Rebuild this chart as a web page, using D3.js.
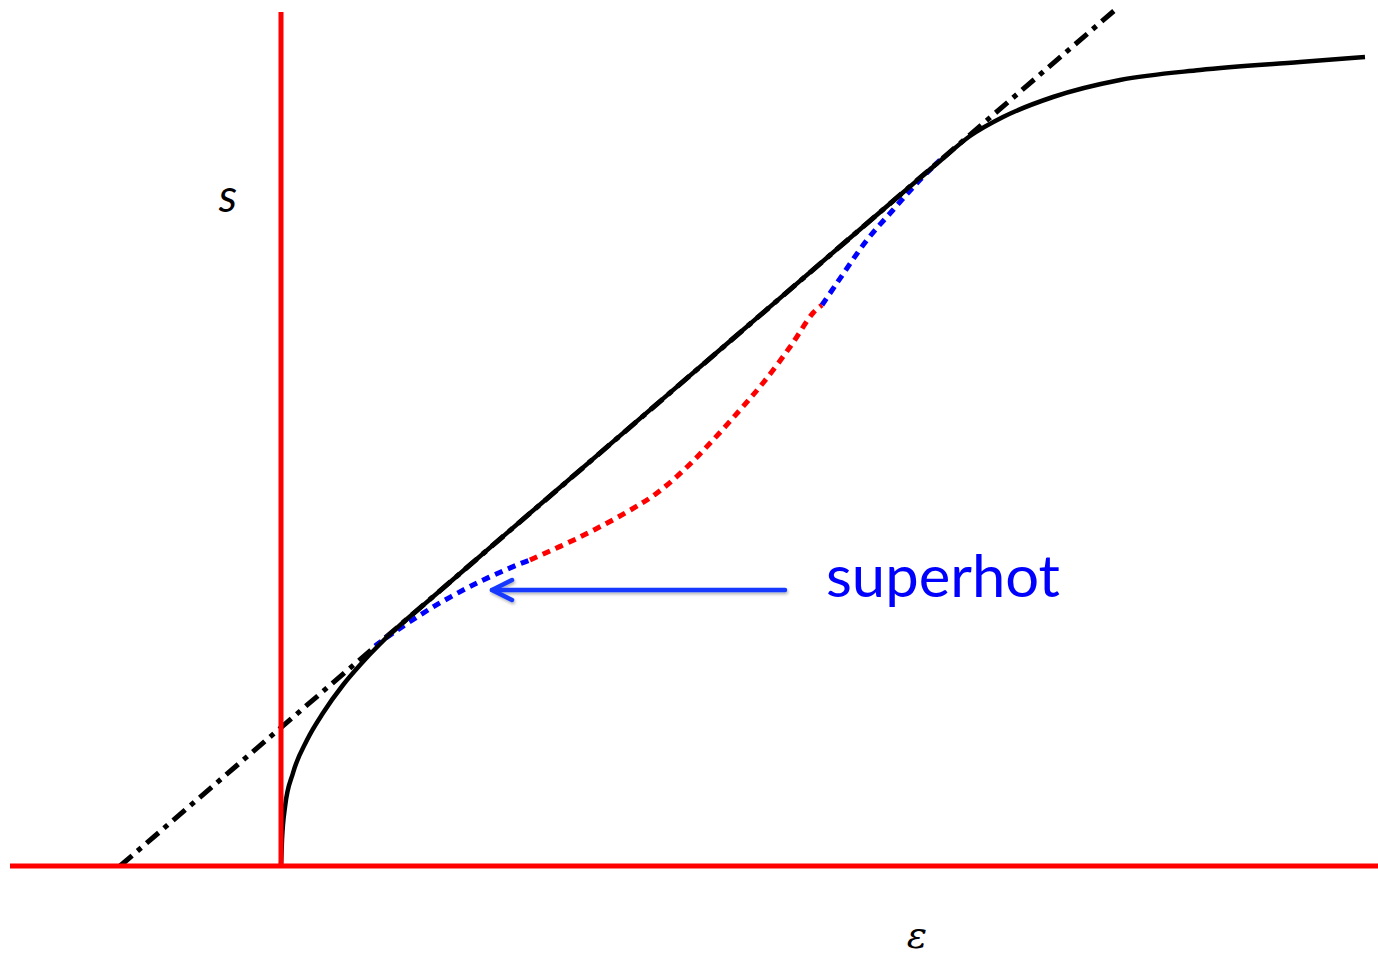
<!DOCTYPE html>
<html>
<head>
<meta charset="utf-8">
<script src="https://cdn.jsdelivr.net/npm/d3@7"></script>
<style>
  html, body { margin: 0; padding: 0; background: #fff; }
  svg { display: block; }
</style>
</head>
<body>
<svg id="chart" width="1378" height="956"></svg>
<script>
// Entropy s as a function of energy ε: equilibrium curve, its straight tangent
// (concave hull), and the non-concave "superhot" branch below it.

// axis extents (ε, s units)
const epsExtent = [-2.71, 10.97];
const sExtent = [0, 8.54];

// equilibrium entropy curve s(ε): low-energy bend, straight part, saturation
const sCurveEps = [0, 0.01, 0.04, 0.12, 0.26, 0.42, 0.62, 0.79, 0.99, 1.19, 1.40, 2.50, 4.50, 6.10, 6.40, 6.59, 6.89, 7.22, 7.72, 8.39, 9.19, 10.19, 10.84];
const sCurveS   = [0, 0.26, 0.59, 0.93, 1.26, 1.53, 1.81, 2.01, 2.22, 2.408, 2.589, 3.537, 5.257, 6.633, 6.889, 7.050, 7.30, 7.49, 7.69, 7.86, 7.96, 8.04, 8.09];

// common tangent (dash-dot)
const tangentEps = [-1.61, 8.34];
const tangentS   = [0, 8.56];

// superhot branch, lower blue part
const hotLowEps = [0.94, 1.12, 1.52, 1.96, 2.36, 2.49];
const hotLowS   = [2.20, 2.33, 2.59, 2.83, 3.01, 3.06];
// middle red part
const hotMidEps = [2.49, 2.99, 3.46, 3.76, 4.06, 4.32, 4.59, 4.82, 5.09, 5.32, 5.41];
const hotMidS   = [3.06, 3.29, 3.54, 3.73, 3.99, 4.26, 4.56, 4.83, 5.19, 5.53, 5.61];
// upper blue part
const hotHighEps = [5.41, 5.56, 5.86, 6.12, 6.36, 6.59];
const hotHighS   = [5.61, 5.83, 6.26, 6.56, 6.83, 7.06];

// annotation arrow (tail → head) and label
const arrowEps = [5.04, 2.11];
const arrowS   = [2.76, 2.76];
const labelText = "superhot";
const labelAt = [5.45, 2.69];
const sLabelAt = [-0.53, 6.54];
const epsLabelAt = [6.36, -0.82];

const svg = d3.select("#chart");
const x = d3.scaleLinear().domain([0, 10]).range([281, 1281]);
const y = d3.scaleLinear().domain([0, 8.66]).range([866, 0]);

const zip = (a, b) => a.map((v, i) => [v, b[i]]);
const line = d3.line().x(d => x(d[0])).y(d => y(d[1]));
const smooth = d3.line().x(d => x(d[0])).y(d => y(d[1])).curve(d3.curveMonotoneX);
const smoothCR = d3.line().x(d => x(d[0])).y(d => y(d[1])).curve(d3.curveCatmullRom.alpha(0.5));

const defs = svg.append("defs");
const shadow = defs.append("filter").attr("id", "shadow")
  .attr("filterUnits", "userSpaceOnUse")
  .attr("x", 0).attr("y", 0).attr("width", 1378).attr("height", 956);
shadow.append("feDropShadow").attr("dx", 1).attr("dy", 2)
  .attr("stdDeviation", 1.5).attr("flood-color", "#000").attr("flood-opacity", 0.3);

// chevron head: tip at the forward end of the stroke
defs.append("marker").attr("id", "chev")
  .attr("viewBox", "0 0 26 26").attr("refX", 23).attr("refY", 13)
  .attr("markerWidth", 26).attr("markerHeight", 26)
  .attr("markerUnits", "userSpaceOnUse").attr("orient", "auto")
  .append("path").attr("d", "M3,3 L23,13 L3,23")
  .attr("fill", "none").attr("stroke", "#1438ff").attr("stroke-width", 4.5)
  .attr("stroke-linecap", "round").attr("stroke-linejoin", "round");

// tangent line
svg.append("path").datum(zip(tangentEps, tangentS))
  .attr("d", line).attr("fill", "none").attr("stroke", "#000")
  .attr("stroke-width", 5).attr("stroke-dasharray", "16,7,5,7");

// superhot branch
const hot = [
  { pts: zip(hotLowEps, hotLowS), color: "#0000ff" },
  { pts: zip(hotMidEps, hotMidS), color: "#ff0000" },
  { pts: zip(hotHighEps, hotHighS), color: "#0000ff" }
];
svg.selectAll("path.hot").data(hot).join("path").attr("class", "hot")
  .attr("d", d => smoothCR(d.pts)).attr("fill", "none")
  .attr("stroke", d => d.color).attr("stroke-width", 5)
  .attr("stroke-dasharray", "8,6");

// equilibrium curve
svg.append("path").datum(zip(sCurveEps, sCurveS))
  .attr("d", smooth).attr("fill", "none").attr("stroke", "#000")
  .attr("stroke-width", 4.5).attr("stroke-linejoin", "round");

// axes
svg.append("line")
  .attr("x1", x(epsExtent[0])).attr("x2", x(epsExtent[1]))
  .attr("y1", y(0)).attr("y2", y(0))
  .attr("stroke", "#ff0000").attr("stroke-width", 5);
svg.append("line")
  .attr("x1", x(0)).attr("x2", x(0))
  .attr("y1", y(sExtent[0])).attr("y2", y(sExtent[1]))
  .attr("stroke", "#ff0000").attr("stroke-width", 5);

// arrow
svg.append("path").datum(zip(arrowEps, arrowS))
  .attr("d", line).attr("fill", "none").attr("stroke", "#1438ff")
  .attr("stroke-width", 4.5).attr("stroke-linecap", "round")
  .attr("marker-end", "url(#chev)").attr("filter", "url(#shadow)");

svg.append("text").text(labelText)
  .attr("x", x(labelAt[0])).attr("y", y(labelAt[1]))
  .attr("font-family", "Lato, 'Open Sans', sans-serif").attr("font-size", 58)
  .attr("fill", "#0000ff")
  .attr("textLength", 234).attr("lengthAdjust", "spacingAndGlyphs");

svg.append("text").text("s")
  .attr("x", x(sLabelAt[0])).attr("y", y(sLabelAt[1]))
  .attr("text-anchor", "middle")
  .attr("font-family", "Lato, 'Open Sans', sans-serif").attr("font-style", "italic")
  .attr("font-size", 46).attr("fill", "#000");

svg.append("text").text("ε")
  .attr("x", x(epsLabelAt[0])).attr("y", y(epsLabelAt[1]))
  .attr("text-anchor", "middle")
  .attr("font-family", "'DejaVu Serif', 'Liberation Serif', serif").attr("font-style", "italic")
  .attr("font-size", 38).attr("fill", "#000");
</script>
</body>
</html>
